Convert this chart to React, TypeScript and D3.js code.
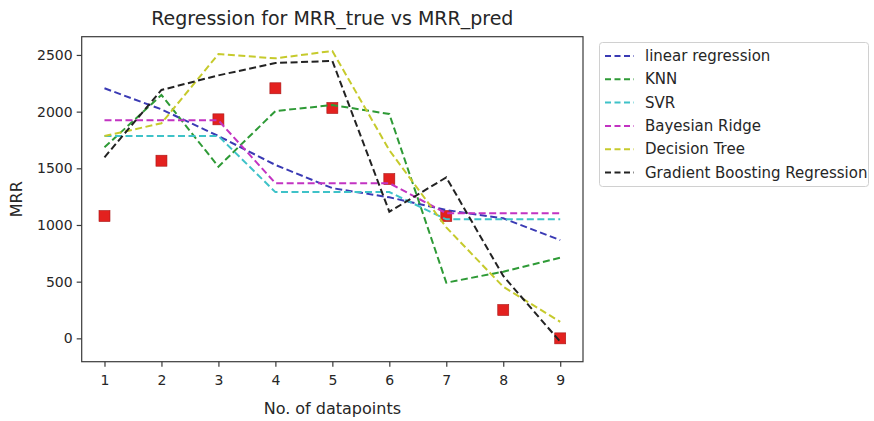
import React, { useEffect, useRef } from 'react';
import * as d3 from 'd3';

// values
const datapoints = [1, 2, 3, 4, 5, 6, 7, 8, 9];
const mrrTrue = [1079, 1567, 1932, 2206, 2032, 1405, 1079, 250, 0];
const linearRegression = [2206, 2020, 1785, 1530, 1325, 1244, 1132, 1059, 867];
const knn = [1685, 2147, 1514, 2005, 2058, 1979, 491, 588, 711];
const svr = [1785, 1785, 1785, 1290, 1290, 1290, 1050, 1050, 1050];
const bayesianRidge = [1923, 1923, 1923, 1369, 1369, 1369, 1103, 1103, 1103];
const decisionTree = [1785, 1897, 2508, 2470, 2535, 1660, 979, 455, 146];
const gradientBoosting = [1597, 2191, 2320, 2429, 2447, 1117, 1420, 550, -30];

const seriesNames = ['linear regression', 'KNN', 'SVR', 'Bayesian Ridge', 'Decision Tree', 'Gradient Boosting Regression'];
const seriesColors = ['#3a3ab4', '#2e9a36', '#3ec2c8', '#c233c2', '#c6ca2c', '#222222'];
const yTicks = [0, 500, 1000, 1500, 2000, 2500];

const W = 874, H = 421;
const font = '"DejaVu Sans", sans-serif';
const textColor = '#262626';

export default function App() {
  const ref = useRef<SVGSVGElement | null>(null);

  useEffect(() => {
    document.body.style.margin = '0';
    const svg = d3.select(ref.current);
    svg.selectAll('*').remove();

    const left = 81.7, right = 583, top = 36.7, bottom = 361.7;

    const x = d3.scaleLinear().domain([0.6, 9.4]).range([left, right]);
    const y = d3.scaleLinear().domain([-206, 2661]).range([bottom, top]);

    svg.append('rect').attr('width', W).attr('height', H).attr('fill', '#fff');

    // true values
    svg.append('g')
      .selectAll('rect')
      .data(mrrTrue)
      .join('rect')
      .attr('x', (d, i) => x(datapoints[i]) - 5.5)
      .attr('y', d => y(d) - 5.5)
      .attr('width', 11)
      .attr('height', 11)
      .attr('fill', '#e3211f')
      .attr('stroke', '#a81616')
      .attr('stroke-width', 0.6);

    const allSeries = [linearRegression, knn, svr, bayesianRidge, decisionTree, gradientBoosting];
    const line = d3.line<number>()
      .x((d, i) => x(datapoints[i]))
      .y(d => y(d));

    allSeries.forEach((s, k) => {
      svg.append('path')
        .datum(s)
        .attr('d', line)
        .attr('fill', 'none')
        .attr('stroke', seriesColors[k])
        .attr('stroke-width', 2)
        .attr('stroke-dasharray', '7,3.5');
    });

    // frame
    svg.append('rect')
      .attr('x', left).attr('y', top)
      .attr('width', right - left).attr('height', bottom - top)
      .attr('fill', 'none').attr('stroke', '#3a3a3a').attr('stroke-width', 1.2);

    const xAxis = d3.axisBottom(x).tickValues(datapoints).tickSize(5).tickPadding(8).tickFormat(d3.format('d'));
    const gx = svg.append('g').attr('transform', `translate(0,${bottom})`).call(xAxis);
    gx.select('.domain').remove();

    const yAxis = d3.axisLeft(y).tickValues(yTicks).tickSize(5).tickPadding(4).tickFormat(d3.format('d'));
    const gy = svg.append('g').attr('transform', `translate(${left},0)`).call(yAxis);
    gy.select('.domain').remove();

    [gx, gy].forEach(g => {
      g.selectAll('line').attr('stroke', '#3a3a3a').attr('stroke-width', 1.2);
      g.selectAll('text').attr('fill', textColor).style('font-family', font).style('font-size', '14px');
    });

    svg.append('text')
      .attr('x', (left + right) / 2).attr('y', 25)
      .attr('text-anchor', 'middle')
      .style('font-family', font).style('font-size', '19px')
      .attr('fill', textColor)
      .text('Regression for MRR_true vs MRR_pred');

    svg.append('text')
      .attr('x', (left + right) / 2).attr('y', 414)
      .attr('text-anchor', 'middle')
      .style('font-family', font).style('font-size', '16px')
      .attr('fill', textColor)
      .text('No. of datapoints');

    svg.append('text')
      .attr('transform', `translate(22,${(top + bottom) / 2}) rotate(-90)`)
      .attr('text-anchor', 'middle')
      .style('font-family', font).style('font-size', '16px')
      .attr('fill', textColor)
      .text('MRR');

    // legend
    const lg = svg.append('g');
    lg.append('rect')
      .attr('x', 599.5).attr('y', 42.5)
      .attr('width', 269).attr('height', 144)
      .attr('rx', 3)
      .attr('fill', '#fff').attr('stroke', '#d0d0d0');

    seriesNames.forEach((name, k) => {
      const cy = 56 + k * 23.3;
      lg.append('line')
        .attr('x1', 605).attr('x2', 634).attr('y1', cy).attr('y2', cy)
        .attr('stroke', seriesColors[k]).attr('stroke-width', 2)
        .attr('stroke-dasharray', '6,3.5');
      lg.append('text')
        .attr('x', 645).attr('y', cy + 5)
        .style('font-family', font).style('font-size', '15px')
        .attr('fill', textColor)
        .text(name);
    });
  }, []);

  return <svg ref={ref} width={W} height={H} style={{ display: 'block' }} />;
}
